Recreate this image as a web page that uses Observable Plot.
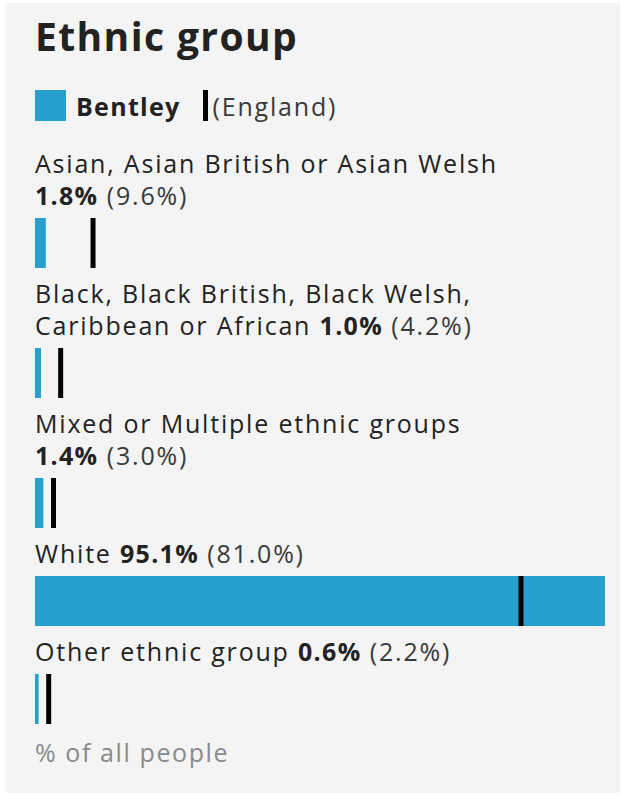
<!DOCTYPE html>
<html>
<head>
<meta charset="utf-8">
<script src="https://cdn.jsdelivr.net/npm/d3@7"></script>
<script src="https://cdn.jsdelivr.net/npm/@observablehq/plot@0.6"></script>
<style>
  html, body { margin: 0; padding: 0; background: #ffffff; }
  #panel {
    position: absolute; left: 5px; top: 3px; width: 615px; height: 790px;
    background: #f4f4f4; font-family: "Open Sans", sans-serif; color: #222;
  }
  #inner { position: absolute; left: 30px; top: 0; width: 570px; }
  h1 { font-size: 39px; font-weight: 700; margin: 0; line-height: 1; position: absolute; top: 13px; left: 0; white-space: nowrap; letter-spacing: 1.4px; }
  #legend { position: absolute; top: 87px; left: 0; display: flex; align-items: center; font-size: 25px; height: 31px; white-space: nowrap; letter-spacing: 1.8px; }
  .sw { width: 31px; height: 31px; background: #27a0cc; display: inline-block; }
  .mk { width: 5px; height: 31px; background: #000; display: inline-block; }
  #blocks { position: absolute; top: 144px; left: 0; width: 570px; }
  .lab { font-size: 25px; line-height: 32px; max-width: 482px; margin-bottom: 7px; letter-spacing: 1.8px; }
  .lab b { letter-spacing: 1.3px; }
  .cmp { color: #3a3a3a; }
  .bar { margin-bottom: 9px; }
  .bar svg { display: block; }
  .foot { font-size: 25px; line-height: 32px; color: #8a8a8a; margin-top: 12px; letter-spacing: 1.6px; }
</style>
</head>
<body>
<div id="panel"><div id="inner">
  <h1>Ethnic group</h1>
  <div id="legend"><span class="sw"></span><b style="margin-left:10px;letter-spacing:1.3px">Bentley</b><span class="mk" style="margin-left:22px"></span><span class="cmp" style="margin-left:5px">(England)</span></div>
  <div id="blocks"></div>
</div></div>
<script>
const categories = [
  "Asian, Asian British or Asian Welsh",
  "Black, Black British, Black Welsh, Caribbean or African",
  "Mixed or Multiple ethnic groups",
  "White",
  "Other ethnic group"
];
const bentley = [1.8, 1.0, 1.4, 95.1, 0.6];
const england = [9.6, 4.2, 3.0, 81.0, 2.2];
const unitLabel = "% of all people";

const rows = categories.map((c, i) => ({category: c, bentley: bentley[i], england: england[i]}));
const xMax = d3.max(rows, d => Math.max(d.bentley, d.england));
const blocks = document.getElementById("blocks");

rows.forEach(d => {
  const lab = document.createElement("div");
  lab.className = "lab";
  const words = d.category.split(" ").map(w => `<span>${w}</span>`).join(" ");
  lab.innerHTML = `${words} <b>${d.bentley.toFixed(1)}%</b> <span class="cmp">(${d.england.toFixed(1)}%)</span>`;
  blocks.appendChild(lab);
  const chart = Plot.plot({
    width: 570,
    height: 50,
    margin: 0,
    style: {background: "transparent", overflow: "visible"},
    x: {domain: [0, xMax], axis: null},
    marks: [
      Plot.barX([d], {x: "bentley", fill: "#27a0cc"}),
      Plot.ruleX([d], {x: "england", stroke: "#000", strokeWidth: 5})
    ]
  });
  const wrap = document.createElement("div");
  wrap.className = "bar";
  wrap.appendChild(chart);
  blocks.appendChild(wrap);
});
const foot = document.createElement("div");
foot.className = "foot";
foot.textContent = unitLabel;
blocks.appendChild(foot);
</script>
</body>
</html>
